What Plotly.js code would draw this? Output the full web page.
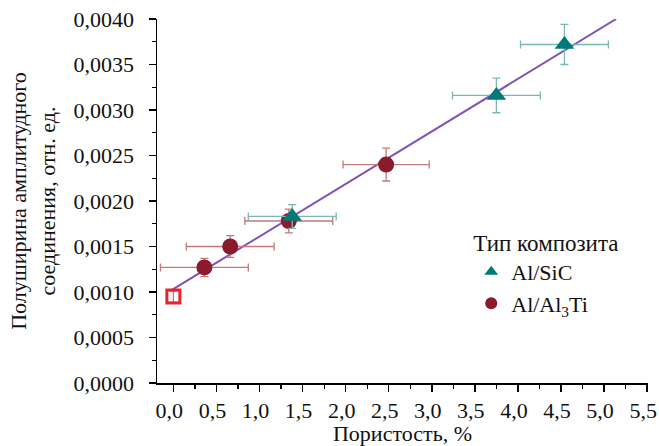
<!DOCTYPE html>
<html><head><meta charset="utf-8">
<script src="https://cdn.plot.ly/plotly-3.0.1.min.js"></script>
<style>html,body{margin:0;padding:0;background:#fff}#chart{width:659px;height:446px}</style>
</head><body><div id="chart"></div>
<script>
// Al/SiC
const sicX = [1.38, 3.75, 4.54];
const sicY = [0.00183, 0.00316, 0.00372];
const sicXErr = [0.51, 0.51, 0.51];
const sicYErr = [0.00013, 0.00019, 0.00022];
// Al/Al3Ti
const altiX = [0.36, 0.66, 1.34, 2.47];
const altiY = [0.00127, 0.00150, 0.00178, 0.00240];
const altiXErr = [0.51, 0.51, 0.51, 0.50];
const altiYErr = [0.00010, 0.00012, 0.00013, 0.00018];
// Reference (pure Al)
const refX = [0.0];
const refY = [0.00095];
const refYErr = [0.00006];
// Linear fit
const fitX = [-0.04, 5.14];
const fitY = [0.00101, 0.00400];
// Tick values
const xTicks = [0, 0.5, 1, 1.5, 2, 2.5, 3, 3.5, 4, 4.5, 5, 5.5];
const xTickText = ['0,0','0,5','1,0','1,5','2,0','2,5','3,0','3,5','4,0','4,5','5,0','5,5'];

const serif = "'Liberation Serif', 'Times New Roman', Tinos, serif";

const traces = [
  {x: fitX, y: fitY, mode: 'lines', line: {color: '#7f52b5', width: 2}, showlegend: false, hoverinfo: 'skip'},
  {x: refX, y: refY, mode: 'markers', showlegend: false,
   marker: {symbol: 'square-open', size: 13, color: '#e8232b', line: {width: 3, color: '#e8232b'}},
   error_y: {type: 'data', array: refYErr, color: '#e06060', thickness: 1.2, width: 4}},
  {x: altiX, y: altiY, mode: 'markers', name: 'Al/Al<sub>3</sub>Ti', legendrank: 2,
   marker: {symbol: 'circle', size: 16, color: '#8a1a2c'},
   error_x: {type: 'data', array: altiXErr, color: '#c27a7a', thickness: 1.3, width: 4},
   error_y: {type: 'data', array: altiYErr, color: '#c27a7a', thickness: 1.3, width: 4}},
  {x: sicX, y: sicY, mode: 'markers', name: 'Al/SiC', legendrank: 1,
   marker: {symbol: 'triangle-up', size: 17, color: '#007a78'},
   error_x: {type: 'data', array: sicXErr, color: '#7ab8b8', thickness: 1.3, width: 4},
   error_y: {type: 'data', array: sicYErr, color: '#7ab8b8', thickness: 1.3, width: 4}}
];

const layout = {
  width: 659, height: 446,
  margin: {l: 157, r: 11, t: 19, b: 63},
  paper_bgcolor: '#fff', plot_bgcolor: '#fff',
  separators: ', ',
  font: {family: serif, size: 22, color: '#111'},
  xaxis: {
    range: [-0.19, 5.51], tickvals: xTicks, ticktext: xTickText,
    ticklabeloverflow: 'allow', ticklabelshift: -4,
    ticks: 'outside', ticklen: 7, tickwidth: 1.5, tickcolor: '#000',
    minor: {dtick: 0.25, tick0: 0, ticks: 'outside', ticklen: 4, tickwidth: 1.2, tickcolor: '#000'},
    showline: true, linecolor: '#000', linewidth: 1.5, showgrid: false, zeroline: false,
    tickfont: {family: serif, size: 22, color: '#111'},
    title: {text: 'Пористость, %', font: {family: serif, size: 22, color: '#111'}, standoff: 2}
  },
  yaxis: {
    range: [0, 0.0040], dtick: 0.0005, tick0: 0, tickformat: '.4f',
    ticks: 'outside', ticklen: 7, tickwidth: 1.5, tickcolor: '#000',
    ticklabelstandoff: 10,
    minor: {dtick: 0.00025, tick0: 0, ticks: 'outside', ticklen: 4, tickwidth: 1.2, tickcolor: '#000'},
    showline: true, linecolor: '#000', linewidth: 1.5, showgrid: false, zeroline: false,
    tickfont: {family: serif, size: 22, color: '#111'},
    title: {text: 'Полуширина амплитудного<br>соединения, отн. ед.', font: {family: serif, size: 22, color: '#111'}, standoff: 12}
  },
  showlegend: true,
  legend: {
    x: 0.64, y: 0.445, xanchor: 'left', yanchor: 'top',
    bgcolor: 'rgba(0,0,0,0)', traceorder: 'normal',
    title: {text: 'Тип композита', font: {family: serif, size: 23, color: '#111'}},
    font: {family: serif, size: 22, color: '#111'},
    itemsizing: 'constant'
  }
};

Plotly.newPlot('chart', traces, layout, {displayModeBar: false, staticPlot: true});
</script>
</body></html>
